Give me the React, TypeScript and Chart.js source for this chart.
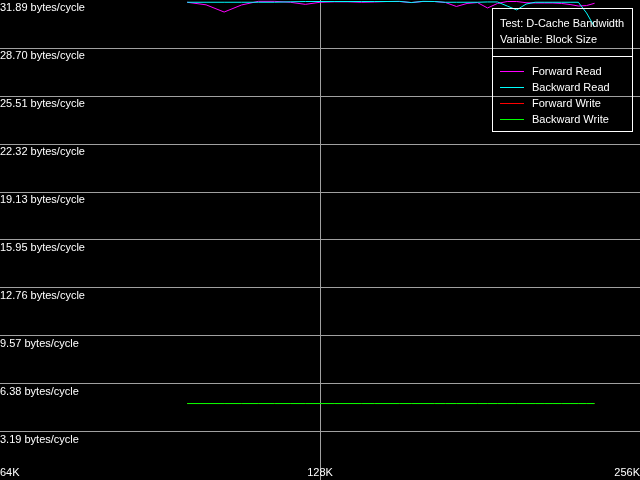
import React, { useEffect, useRef } from "react";
import { Chart, registerables } from "chart.js";

Chart.register(...registerables);

// Block sizes (K) at which the measurements are plotted
const blockSizesK = [
  96, 100, 104, 108, 112, 116, 120, 124, 128, 132, 136, 140, 144, 148, 152, 156, 160, 164,
  168, 172, 176, 180, 184, 188, 192, 196, 200, 204, 208, 212, 216, 220, 224, 228, 232,
];

// bytes/cycle
const forwardRead = [
  31.74, 31.57, 31.09, 31.56, 31.8, 31.8, 31.74, 31.6, 31.74, 31.77, 31.77, 31.74, 31.76, 31.79,
  31.79, 31.72, 31.79, 31.79, 31.72, 31.46, 31.66, 31.72, 31.36, 31.66, 31.79, 31.79, 31.71,
  31.69, 31.69, 31.69, 31.66, 31.59, 31.49, 31.52, 31.67,
];
const backwardRead = [
  31.74, 31.74, 31.74, 31.74, 31.74, 31.74, 31.77, 31.79, 31.79, 31.79, 31.79, 31.79, 31.79,
  31.79, 31.8, 31.72, 31.8, 31.79, 31.74, 31.74, 31.74, 31.74, 31.76, 31.76, 31.49, 31.23,
  31.62, 31.74, 31.74, 31.74, 31.74, 31.74, 31.74, 31.03, 30.1,
];
const forwardWrite = [
  5.08, 5.08, 5.08, 5.08, 5.08, 5.08, 5.08, 5.08, 5.08, 5.08, 5.08, 5.08, 5.08, 5.08, 5.08,
  5.08, 5.08, 5.08, 5.08, 5.08, 5.08, 5.08, 5.08, 5.08, 5.08, 5.08, 5.08, 5.08, 5.08, 5.08,
  5.08, 5.08, 5.08, 5.08, 5.08,
];
const backwardWrite = [
  5.08, 5.08, 5.08, 5.08, 5.08, 5.08, 5.08, 5.08, 5.08, 5.08, 5.08, 5.08, 5.08, 5.08, 5.08,
  5.08, 5.08, 5.08, 5.08, 5.08, 5.08, 5.08, 5.08, 5.08, 5.08, 5.08, 5.08, 5.08, 5.08, 5.08,
  5.08, 5.08, 5.08, 5.08, 5.08,
];

const seriesNames = ["Forward Read", "Backward Read", "Forward Write", "Backward Write"];
const seriesColors = ["#ff00ff", "#00ffff", "#ff0000", "#00ff00"];

const xTickValues = [64, 128, 256];
const xTickLabels = ["64K", "128K", "256K"];
const yTickValues = [0, 3.19, 6.38, 9.57, 12.76, 15.95, 19.13, 22.32, 25.51, 28.7, 31.89];
const yTickLabels = [
  "",
  "3.19 bytes/cycle",
  "6.38 bytes/cycle",
  "9.57 bytes/cycle",
  "12.76 bytes/cycle",
  "15.95 bytes/cycle",
  "19.13 bytes/cycle",
  "22.32 bytes/cycle",
  "25.51 bytes/cycle",
  "28.70 bytes/cycle",
  "31.89 bytes/cycle",
];
const legendTitle = ["Test: D-Cache Bandwidth", "Variable: Block Size"];

const FONT = "'Liberation Sans', Arial, sans-serif";
const GRID = "#a0a0a0";

const bgPlugin = {
  id: "bg",
  beforeDraw(chart: any) {
    const { ctx, width, height } = chart;
    ctx.save();
    ctx.fillStyle = "#000";
    ctx.fillRect(0, 0, width, height);
    ctx.restore();
  },
};

const boxLegendPlugin = {
  id: "boxLegend",
  afterDraw(chart: any) {
    const ctx = chart.ctx;
    ctx.save();
    ctx.strokeStyle = "#ffffff";
    ctx.lineWidth = 1;
    ctx.strokeRect(492.5, 8.5, 140, 123);
    ctx.beginPath();
    ctx.moveTo(492.5, 56.5);
    ctx.lineTo(632.5, 56.5);
    ctx.stroke();
    ctx.font = `11px ${FONT}`;
    ctx.fillStyle = "#ffffff";
    ctx.textBaseline = "middle";
    ctx.textAlign = "left";
    legendTitle.forEach((t, i) => ctx.fillText(t, 500, 24 + i * 16));
    seriesNames.forEach((name, i) => {
      const y = 71.5 + i * 16;
      ctx.strokeStyle = seriesColors[i];
      ctx.lineWidth = 1;
      ctx.beginPath();
      ctx.moveTo(500, y);
      ctx.lineTo(524, y);
      ctx.stroke();
      ctx.fillStyle = "#ffffff";
      ctx.fillText(name, 532, y + 0.5);
    });
    ctx.restore();
  },
};

export default function App() {
  const ref = useRef<HTMLCanvasElement | null>(null);

  useEffect(() => {
    if (!ref.current) return;
    const seriesData = [forwardRead, backwardRead, forwardWrite, backwardWrite];
    const chart = new Chart(ref.current, {
      type: "line",
      data: {
        datasets: seriesData.map((vals, i) => ({
          label: seriesNames[i],
          data: blockSizesK.map((x, j) => ({ x, y: vals[j] })),
          borderColor: seriesColors[i],
          backgroundColor: seriesColors[i],
          borderWidth: 1,
          pointRadius: 0,
          tension: 0,
          fill: false,
          order: 4 - i,
        })),
      },
      options: {
        animation: false,
        responsive: true,
        maintainAspectRatio: false,
        layout: { padding: 0 },
        plugins: {
          legend: { display: false },
          tooltip: { enabled: false },
          title: { display: false },
        },
        scales: {
          x: {
            type: "logarithmic",
            position: "bottom",
            min: 64,
            max: 256,
            afterBuildTicks: (scale: any) => {
              scale.ticks = xTickValues.map((v) => ({ value: v }));
            },
            afterFit: (scale: any) => {
              scale.paddingLeft = 0;
              scale.paddingRight = 0;
            },
            ticks: {
              autoSkip: false,
              maxRotation: 0,
              align: "inner",
              color: "#ffffff",
              padding: -14.8,
              font: { family: FONT, size: 11, lineHeight: 1.4 },
              callback: (_v: any, i: number) => xTickLabels[i],
            },
            grid: {
              drawTicks: false,
              color: (c: any) => (c.index === 1 ? GRID : "transparent"),
              lineWidth: 1,
            },
            border: { display: false },
          },
          y: {
            type: "linear",
            min: 0,
            max: 31.89,
            afterBuildTicks: (scale: any) => {
              scale.ticks = yTickValues.map((v) => ({ value: v }));
            },
            afterFit: (scale: any) => {
              scale.paddingTop = 0;
              scale.paddingBottom = 0;
            },
            ticks: {
              mirror: true,
              padding: 0,
              labelOffset: 8,
              autoSkip: false,
              color: "#ffffff",
              font: { family: FONT, size: 11 },
              callback: (_v: any, i: number) => yTickLabels[i],
            },
            grid: {
              drawTicks: false,
              color: (c: any) =>
                c.index === 0 || c.index === yTickValues.length - 1 ? "transparent" : GRID,
              lineWidth: 1,
            },
            border: { display: false },
          },
        },
      },
      plugins: [bgPlugin, boxLegendPlugin],
    } as any);
    return () => chart.destroy();
  }, []);

  return (
    <div
      style={{
        position: "fixed",
        left: 0,
        top: 0,
        width: 640,
        height: 480,
        background: "#000",
      }}
    >
      <canvas ref={ref} />
    </div>
  );
}
